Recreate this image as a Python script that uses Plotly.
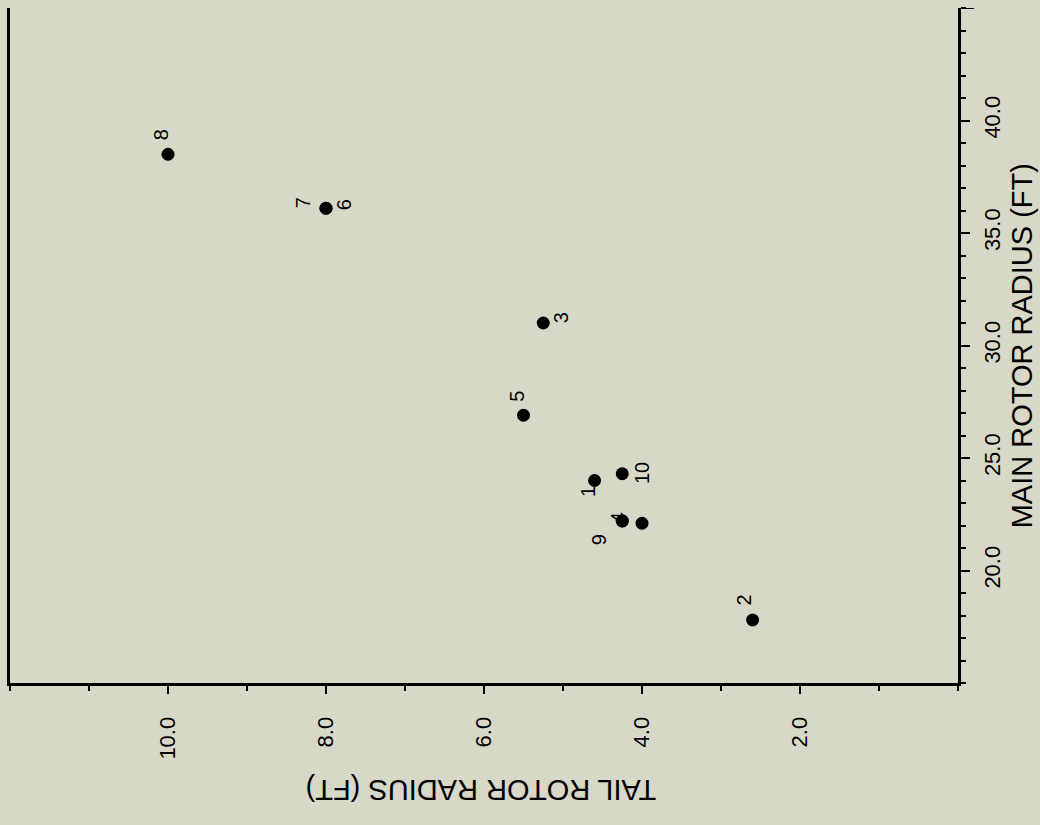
import plotly.graph_objects as go

# ---- data ----
tail_radius = [10.0, 8.0, 8.0, 5.25, 5.5, 4.6, 4.25, 4.25, 4.25, 4.0, 2.6]
main_radius = [38.5, 36.1, 36.1, 31.0, 26.9, 24.0, 24.3, 22.2, 22.2, 22.1, 17.8]
point_labels = ["8", "7", "6", "3", "5", "1", "10", "4", "9", "", "2"]

x_tick_vals = [10, 8, 6, 4, 2]
x_tick_text = ["10.0", "8.0", "6.0", "4.0", "2.0"]
y_tick_vals = [20, 25, 30, 35, 40]
y_tick_text = ["20.0", "25.0", "30.0", "35.0", "40.0"]

x_title = "TAIL ROTOR RADIUS (FT)"
y_title = "MAIN ROTOR RADIUS (FT)"

# ---- styles ----
BG = "rgb(216,216,201)"
FONT = "Liberation Sans, Arial, Helvetica, sans-serif"
label_offsets = {  # (dx, dy) in screen pixels, dy downward
    "8": (-7, -19), "7": (-23, -5), "6": (18, -3), "3": (18, -5),
    "5": (-6, -19), "1": (-7, 11), "10": (19, -1), "4": (-4, -3),
    "9": (-23, 19), "2": (-9, -20),
}

fig = go.Figure()
fig.add_trace(go.Scatter(
    x=tail_radius, y=main_radius, mode="markers",
    marker=dict(color="black", size=13),
    hoverinfo="skip", showlegend=False,
))

for x, y, lab in zip(tail_radius, main_radius, point_labels):
    if not lab:
        continue
    dx, dy = label_offsets[lab]
    fig.add_annotation(
        x=x, y=y, text=lab, showarrow=False, textangle=-90,
        xshift=dx, yshift=-dy, xanchor="center", yanchor="middle",
        font=dict(family=FONT, size=20, color="black"),
    )

fig.update_layout(
    width=1040, height=825,
    margin=dict(l=7, r=82, t=8, b=142),
    paper_bgcolor=BG, plot_bgcolor=BG,
    font=dict(family=FONT, color="black"),
    showlegend=False,
)

fig.update_xaxes(
    range=[12, 0], showgrid=False, zeroline=False,
    showline=True, linecolor="black", linewidth=3,
    tickmode="array", tickvals=x_tick_vals, ticktext=x_tick_text,
    tickangle=-90, ticks="outside", ticklen=8, tickwidth=2, tickcolor="black",
    tickfont=dict(family=FONT, size=22, color="black"),
    ticklabelstandoff=14,
    minor=dict(dtick=1, tick0=0, ticks="outside", ticklen=5, tickwidth=2,
               tickcolor="black", showgrid=False),
)
fig.update_yaxes(
    range=[15, 45], side="right", showgrid=False, zeroline=False,
    showline=True, linecolor="black", linewidth=3, mirror=True,
    tickmode="array", tickvals=y_tick_vals, ticktext=y_tick_text,
    tickangle=-90, ticks="outside", ticklen=9, tickwidth=2, tickcolor="black",
    tickfont=dict(family=FONT, size=22, color="black"),
    ticklabelstandoff=4,
    minor=dict(dtick=1, tick0=0, ticks="outside", ticklen=5, tickwidth=2,
               tickcolor="black", showgrid=False),
)

# long end tick at top of the right axis
fig.add_shape(type="line", xref="paper", yref="y",
              x0=1, x1=1 + 16 / 951, y0=45, y1=45,
              line=dict(color="black", width=2))

# axis titles
fig.add_annotation(
    xref="paper", yref="paper", x=(1022 - 7) / 951, y=0.5,
    xanchor="center", yanchor="middle",
    text=y_title, showarrow=False, textangle=-90,
    font=dict(family=FONT, size=29, color="black"),
)
fig.add_annotation(
    xref="paper", yref="paper", x=0.497, y=(683 - 790) / 675,
    xanchor="center", yanchor="middle",
    text=x_title, showarrow=False, textangle=180,
    font=dict(family=FONT, size=29, color="black"),
)

fig.write_html("out.html")
